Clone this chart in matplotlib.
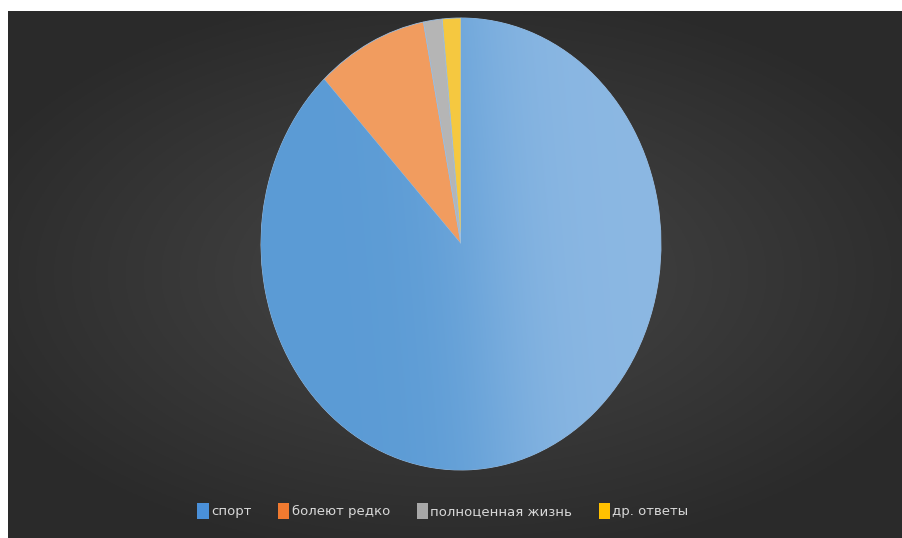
import numpy as np
import matplotlib.pyplot as plt
from matplotlib.patches import Patch

labels = ['спорт', 'болеют редко', 'полноценная жизнь', 'др. ответы']
values = [88, 9, 1.5, 1.5]
slice_colors = ['#5B9BD5', '#F19C5F', '#B5B5B5', '#F5C840']
legend_colors = ['#4A90D9', '#F07A30', '#A8A8A8', '#FFC000']

fig = plt.figure(figsize=(9.02, 5.38), dpi=100)
fig.patch.set_facecolor('white')

# dark background with a soft glow in the middle
bg = fig.add_axes([8 / 902, 0, 1 - 8 / 902, 527 / 538])
yy, xx = np.mgrid[-1:1:300j, -1:1:500j]
r = np.clip(np.sqrt((xx * 0.85) ** 2 + (yy * 0.9) ** 2), 0, 1)
lum = 0.28 - (0.28 - 0.165) * r
bg.imshow(np.dstack([lum, lum, lum]), extent=[0, 1, 0, 1], aspect='auto')
bg.set_axis_off()

# pie (stretched vertically like the original)
ax = fig.add_axes([261 / 902, (538 - 470) / 538, 400 / 902, 452 / 538])
wedges, _ = ax.pie(values, colors=slice_colors, startangle=90, counterclock=False,
                   radius=1, wedgeprops=dict(linewidth=0.6, edgecolor='#9fbfe0'))

# light-to-dark shading on the big slice
gx, gy = np.meshgrid(np.linspace(-1, 1, 400), np.linspace(1, -1, 400))
t = 1 / (1 + np.exp(-(gx - 0.12 + 0.1 * gy) / 0.18))
dark = np.array([0x5B, 0x9B, 0xD5]) / 255
light = np.array([0x8C, 0xB8, 0xE3]) / 255
grad = dark[None, None, :] * (1 - t[..., None]) + light[None, None, :] * t[..., None]
im = ax.imshow(grad, extent=[-1, 1, -1, 1], zorder=wedges[0].get_zorder() + 0.1)
im.set_clip_path(wedges[0])

ax.set_xlim(-1, 1)
ax.set_ylim(-1, 1)
ax.set_aspect('auto')
ax.set_axis_off()

handles = [Patch(facecolor=c, edgecolor='none') for c in legend_colors]
fig.legend(handles, labels, loc='center', bbox_to_anchor=(443 / 902, 1 - 511 / 538),
           ncol=4, frameon=False, fontsize=9.5, labelcolor='#D9D9D9',
           handlelength=0.85, handleheight=1.4, handletextpad=0.2, columnspacing=2.0)

fig.savefig('out.png', dpi=100)
